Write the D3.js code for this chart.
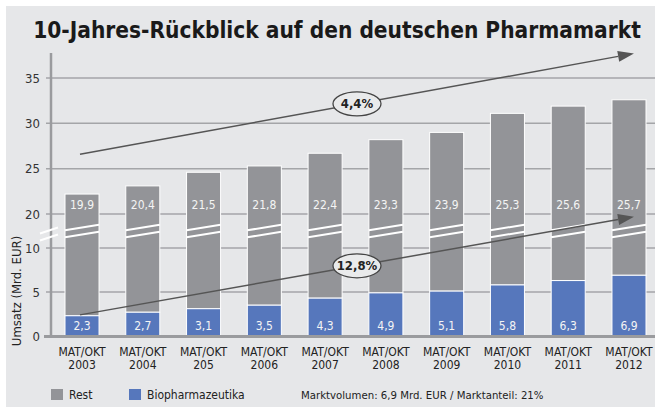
<!DOCTYPE html>
<html>
<head>
<meta charset="UTF-8">
<title>Pharmamarkt</title>
<script src="https://cdnjs.cloudflare.com/ajax/libs/d3/7.8.5/d3.min.js"></script>
<style>
  body { margin: 0; background: #fff; }
  text { font-family: "Liberation Sans Narrow", "DejaVu Sans Condensed", "Roboto Condensed", "Noto Sans", sans-serif; font-stretch: condensed; }
</style>
</head>
<body>
<script>
// data
var years = ["2003", "2004", "205", "2006", "2007", "2008", "2009", "2010", "2011", "2012"];
var bio = [2.3, 2.7, 3.1, 3.5, 4.3, 4.9, 5.1, 5.8, 6.3, 6.9];
var rest = [19.9, 20.4, 21.5, 21.8, 22.4, 23.3, 23.9, 25.3, 25.6, 25.7];
var yTicks = [0, 5, 10, 20, 25, 30, 35];
var trendLabels = ["4,4%", "12,8%"];
var trendStart = [26.6, 2.4];
var trendEnd = [37.7, 19.2];

var W = 655, H = 408;
var svg = d3.select("body").append("svg").attr("width", W).attr("height", H);

svg.append("rect").attr("x", 6).attr("y", 6).attr("width", W - 6).attr("height", H - 7)
  .attr("fill", "#e6e7e9");

var title = svg.append("text").attr("x", 337).attr("y", 38).attr("text-anchor", "middle")
  .attr("font-size", 25).attr("font-weight", "bold").attr("fill", "#1a1a1a")
  .text("10-Jahres-Rückblick auf den deutschen Pharmamarkt");
var tl = title.node().getComputedTextLength();
if (tl > 608) title.attr("font-size", 25 * 608 / tl);

// broken axis: 0..10 normal, 10..20 compressed
var y = d3.scaleLinear().domain([0, 10, 20, 35]).range([336, 248, 214, 78]);
var x = d3.scaleBand().domain(years).range([65, 646]).paddingInner(0.44).paddingOuter(0);

// grid
svg.append("g").selectAll("line").data(yTicks).enter().append("line")
  .attr("x1", 46).attr("x2", W).attr("y1", function(d) { return y(d); }).attr("y2", function(d) { return y(d); })
  .attr("stroke", "#a4a5a8").attr("stroke-width", 1.5);

svg.append("g").selectAll("text").data(yTicks).enter().append("text")
  .attr("x", 40).attr("y", function(d) { return y(d) + 4.5; }).attr("text-anchor", "end")
  .attr("font-size", 13).attr("fill", "#333").text(function(d) { return d; });

// bars
var rows = years.map(function(k, i) { return { year: k, bio: bio[i], rest: rest[i] }; });
var bars = svg.append("g").selectAll("g").data(rows).enter().append("g");

bars.append("rect")
  .attr("x", function(d) { return x(d.year); }).attr("width", x.bandwidth())
  .attr("y", function(d) { return y(d.bio + d.rest); })
  .attr("height", function(d) { return y(d.bio) - y(d.bio + d.rest); })
  .attr("fill", "#939498").attr("stroke", "#fff").attr("stroke-width", 1);

bars.append("rect")
  .attr("x", function(d) { return x(d.year); }).attr("width", x.bandwidth())
  .attr("y", function(d) { return y(d.bio); })
  .attr("height", function(d) { return y(0) - y(d.bio); })
  .attr("fill", "#5677bc").attr("stroke", "#fff").attr("stroke-width", 1);

// break marks on bars
var yb = y(15);
bars.each(function(d) {
  var g = d3.select(this), x0 = x(d.year), x1 = x0 + x.bandwidth();
  [-3.5, 3.5].forEach(function(o) {
    g.append("line").attr("x1", x0).attr("x2", x1)
      .attr("y1", yb + o + 2.8).attr("y2", yb + o - 2.8)
      .attr("stroke", "#fff").attr("stroke-width", 2);
  });
});

bars.append("text").attr("x", function(d) { return x(d.year) + x.bandwidth() / 2; })
  .attr("y", 209).attr("text-anchor", "middle").attr("font-size", 12).attr("fill", "#f4f4f4")
  .text(function(d) { return String(d.rest).replace(".", ","); });
bars.append("text").attr("x", function(d) { return x(d.year) + x.bandwidth() / 2; })
  .attr("y", 330).attr("text-anchor", "middle").attr("font-size", 12).attr("fill", "#f4f4f4")
  .text(function(d) { return String(d.bio).replace(".", ","); });

// axes
svg.append("line").attr("x1", 51).attr("x2", 51).attr("y1", 53).attr("y2", 337)
  .attr("stroke", "#9a9b9e").attr("stroke-width", 2.5);
svg.append("line").attr("x1", 44).attr("x2", W).attr("y1", 336.5).attr("y2", 336.5)
  .attr("stroke", "#9a9b9e").attr("stroke-width", 3);
[-3.5, 3.5].forEach(function(o) {
  svg.append("line").attr("x1", 40).attr("x2", 58)
    .attr("y1", yb + 3 + o + 3).attr("y2", yb + 3 + o - 3)
    .attr("stroke", "#fff").attr("stroke-width", 2);
});

// x labels
var xl = svg.append("g").selectAll("g").data(years).enter().append("g");
xl.append("text").attr("x", function(d) { return x(d) + x.bandwidth() / 2; }).attr("y", 356)
  .attr("text-anchor", "middle").attr("font-size", 12).attr("fill", "#222").text("MAT/OKT");
xl.append("text").attr("x", function(d) { return x(d) + x.bandwidth() / 2; }).attr("y", 369)
  .attr("text-anchor", "middle").attr("font-size", 12).attr("fill", "#222").text(function(d) { return d; });

svg.append("text").attr("transform", "translate(21,291) rotate(-90)").attr("text-anchor", "middle")
  .attr("font-size", 13).attr("fill", "#222").text("Umsatz (Mrd. EUR)");

// trend arrows
var ax0 = x(years[0]) + 15, ax1 = x(years[years.length - 1]) + 22;
trendLabels.forEach(function(lab, i) {
  var y0 = y(trendStart[i]), y1 = y(trendEnd[i]);
  var ang = Math.atan2(y1 - y0, ax1 - ax0), L = 16, hw = 5.5;
  var bx = ax1 - L * Math.cos(ang), by = y1 - L * Math.sin(ang);
  svg.append("line").attr("x1", ax0).attr("y1", y0).attr("x2", bx).attr("y2", by)
    .attr("stroke", "#555").attr("stroke-width", 1.5);
  svg.append("path")
    .attr("d", "M" + ax1 + "," + y1 + "L" + (bx + hw * Math.sin(ang)) + "," + (by - hw * Math.cos(ang)) +
      "L" + (bx - hw * Math.sin(ang)) + "," + (by + hw * Math.cos(ang)) + "Z")
    .attr("fill", "#555");
  var cx = (ax0 + ax1) / 2, cy = (y0 + y1) / 2;
  svg.append("ellipse").attr("cx", cx).attr("cy", cy).attr("rx", 24).attr("ry", 12)
    .attr("fill", "#e9eaeb").attr("stroke", "#444").attr("stroke-width", 1.3);
  svg.append("text").attr("x", cx).attr("y", cy + 4.5).attr("text-anchor", "middle")
    .attr("font-size", 13).attr("font-weight", "bold").attr("fill", "#222").text(lab);
});

// legend
svg.append("rect").attr("x", 51).attr("y", 389).attr("width", 12).attr("height", 11).attr("fill", "#939498");
svg.append("text").attr("x", 69).attr("y", 399).attr("font-size", 12).attr("fill", "#222").text("Rest");
svg.append("rect").attr("x", 129).attr("y", 389).attr("width", 12).attr("height", 11).attr("fill", "#5677bc");
svg.append("text").attr("x", 147).attr("y", 399).attr("font-size", 12).attr("fill", "#222").text("Biopharmazeutika");
svg.append("text").attr("x", 301).attr("y", 399).attr("font-size", 11.3).attr("fill", "#222")
  .text("Marktvolumen: 6,9 Mrd. EUR / Marktanteil: 21%");
</script>
</body>
</html>
